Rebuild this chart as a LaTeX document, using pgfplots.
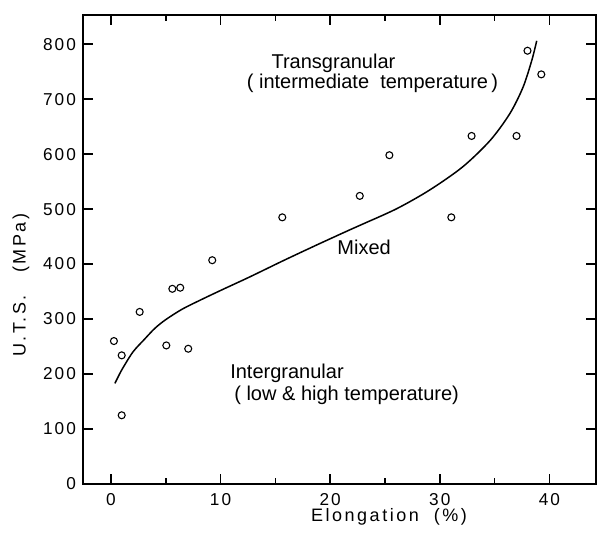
\documentclass[border=0pt]{standalone}
\usepackage{fontspec}
\setmainfont{Liberation Sans}
\usepackage{pgfplots}
\pgfplotsset{compat=1.18}
\begin{document}
\begin{tikzpicture}
\begin{axis}[
  scale only axis,
  width=256.5pt, height=234.5pt,
  xmin=-2.55, xmax=44.25, ymin=0, ymax=853,
  axis line style={line width=1pt},
  every tick/.style={black, line width=0.8pt},
  tick align=inside,
  major tick length=5pt, minor tick length=3pt,
  xtick={0,10,20,30,40},
  minor xtick={5,15,25,35},
  ytick={0,100,...,800},
  tick label style={font=\fontsize{8.6}{10}\selectfont\addfontfeature{LetterSpace=12}},
  /pgf/number format/assume math mode=true,
  xticklabel style={yshift=-1pt},
  xlabel={Elongation\ \ (\%)},
  ylabel={U.T.S.\ \ \ (MPa)},
  label style={font=\fontsize{9}{11}\selectfont\addfontfeature{LetterSpace=14}},
  xlabel style={at={(rel axis cs:0.5965,0)}, anchor=center, yshift=-16.5pt},
  ylabel style={at={(rel axis cs:0,0.424)}, anchor=center, yshift=31pt},
  clip=false,
]
\addplot[black, line width=0.75pt, smooth, tension=0.5] coordinates {
  (0.36,183) (1.0,208) (2.0,240) (3.0,262) (4.0,283) (5.0,299) (6.5,318)
  (8.0,333) (10,352) (12.7,377) (15.7,406) (18.8,435) (21.65,461) (23.0,473)
  (26.1,501) (29.1,535) (32.1,577) (34.6,625) (36.4,674) (37.6,722)
  (38.4,771) (38.84,806)
};
\addplot[only marks, mark=o, mark size=1.75pt, mark options={line width=0.55pt}, black] coordinates {
  (0.27,260) (0.98,234) (0.98,125) (2.62,313) (5.05,252) (5.6,355) (6.32,357)
  (7.05,246) (9.24,407) (15.63,485) (22.7,524) (25.4,598) (31.05,485)
  (32.9,633) (37.0,633) (38.0,788) (39.26,745)
};
\begin{scope}[font=\fontsize{10}{12}\selectfont]
\node at (axis cs:20.3,765) {Transgranular};
\node at (axis cs:23.86,729) {(\ intermediate\ \ temperature\,)};
\node at (axis cs:23.1,431) {Mixed};
\node at (axis cs:16.06,202) {Intergranular};
\node at (axis cs:21.5,162) {(\ low \& high temperature)};
\end{scope}
\coordinate (bbsw) at (rel axis cs:-0.1618,-0.1109);
\coordinate (bbne) at (rel axis cs:1.00975,1.032);
\end{axis}
\pgfresetboundingbox
\path[use as bounding box] (bbsw) rectangle (bbne);
\end{tikzpicture}
\end{document}
